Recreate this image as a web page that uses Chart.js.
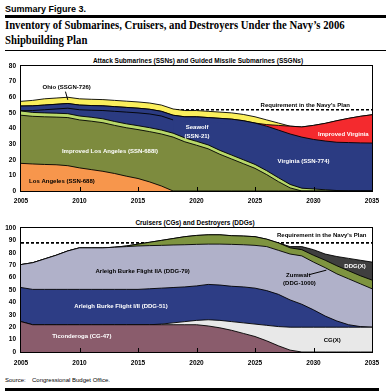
<!DOCTYPE html>
<html>
<head>
<meta charset="utf-8">
<script src="https://cdn.jsdelivr.net/npm/chart.js@4.4.0/dist/chart.umd.min.js"></script>
<style>
  html, body { margin: 0; padding: 0; background: #fff; }
  body { width: 389px; height: 392px; position: relative; overflow: hidden; font-family: "Liberation Sans", Arial, sans-serif; color: #000; }
  .abs { position: absolute; white-space: nowrap; }
  #fig { left: 5px; top: 4px; font-weight: bold; font-size: 9px; line-height: 10px; }
  .thick { position: absolute; left: 5px; height: 3px; background: #000; }
  .thin { position: absolute; left: 5px; height: 1px; background: #000; }
  #title { left: 5px; top: 18px; font-family: "Liberation Serif", serif; font-weight: bold; font-size: 13px; line-height: 14.5px; transform-origin: 0 0; }
  .sub { font-weight: bold; font-size: 6.5px; line-height: 7px; transform: translateX(-50%); }
  .src { font-size: 6px; line-height: 7px; top: 377px; }
  canvas { position: absolute; left: 0; }
</style>
</head>
<body>
<div id="fig" class="abs">Summary Figure 3.</div>
<div class="thick" style="top:15px;width:381px"></div>
<div id="title" class="abs"><span id="t1">Inventory of Submarines, Cruisers, and Destroyers Under the Navy’s 2006</span><br>Shipbuilding Plan</div>
<div class="thin" style="top:50px;width:381px"></div>

<div class="abs sub" style="left:198px;top:56.5px">Attack Submarines (SSNs) and Guided Missile Submarines (SSGNs)</div>
<canvas id="subs" width="389" height="152" style="top:56px"></canvas>

<div class="abs sub" style="left:195px;top:218.5px">Cruisers (CGs) and Destroyers (DDGs)</div>
<canvas id="surface" width="389" height="157" style="top:215px"></canvas>

<div class="abs src" style="left:5px">Source:</div>
<div class="abs src" style="left:32px">Congressional Budget Office.</div>
<div class="thick" style="top:388px;width:374px"></div>

<script>
// --- Data ---
const years = [2005, 2006, 2007, 2008, 2009, 2010, 2011, 2012, 2013, 2014, 2015,
               2016, 2017, 2018, 2019, 2020, 2021, 2022, 2023, 2024, 2025,
               2026, 2027, 2028, 2029, 2030, 2031, 2032, 2033, 2034, 2035];

// submarines, bottom to top
const losAngeles = [17.7, 17.3, 17, 16.8, 16.2, 14.8, 13.7, 12.6, 11.2, 9.5, 8, 5.8, 3.2, 0, 0, 0,
                    0, 0, 0, 0, 0, 0, 0, 0, 0, 0, 0, 0, 0, 0, 0];
const improvedLosAngeles = [30.8, 30.5, 30.5, 30.5, 30.8, 30.7, 31, 31.1, 30.8, 31, 31.3, 32.2, 33.3, 34.5, 31.5, 29.3,
                            27, 23.5, 20.5, 17.5, 14.5, 10.5, 6, 2, 0, 0, 0, 0, 0, 0, 0];
const otherAttack = [2.7, 2.5, 2.5, 2.5, 2.5, 2.5, 2.5, 2.5, 2.5, 2.5, 2.5, 2.5, 2.5, 2.5, 2.5, 2.5,
                     2.5, 2.5, 2.5, 2.5, 2.5, 2.5, 2.5, 2.2, 1.8, 1.3, 0.8, 0.3, 0, 0, 0];
const virginia = [0.2, 1.2, 2, 2.7, 3.5, 4, 4.5, 5.3, 6.5, 7.5, 8.2, 8.8, 9, 8.5, 10.5, 12.7,
                  14.5, 17.5, 20, 22, 23.5, 25.5, 27.5, 29.3, 29.7, 28.7, 28.2, 27.9, 28, 27.8, 27.7];
const seawolf = [3, 3, 3, 3, 3, 3, 3, 3, 3, 3, 3, 3, 3, 3, 3, 3,
                 3, 3, 3, 3, 3, 3, 3, 3, 3, 3, 3, 3, 3, 3, 3];
const improvedVirginia = [0, 0, 0, 0, 0, 0, 0, 0, 0, 0, 0, 0, 0, 0, 0, 0,
                          0, 0, 0, 0, 0, 1, 3, 5, 6.5, 9, 11.3, 13.8, 15.5, 17, 18.1];
const ohio = [3, 3.5, 4, 4, 4, 4, 4, 4, 4, 4, 4, 4, 4, 4, 4, 4,
              4, 4, 4, 4, 4, 3, 1.5, 0, 0, 0, 0, 0, 0, 0, 0];
const subRequirement = 52;
const subTicks = [0, 10, 20, 30, 40, 50, 60, 70, 80];

// cruisers and destroyers, bottom to top
const ticonderoga = [24.5, 22, 22, 22, 22, 22, 22, 22, 22, 22, 22, 22, 22, 22, 22, 22,
                     21, 19.5, 17.5, 15, 12.5, 9, 5, 1.5, 0, 0, 0, 0, 0, 0, 0];
const cgx = [0, 0, 0, 0, 0, 0, 0, 0, 0, 0, 0, 0, 0.5, 1.5, 2.5, 3.5,
             5, 6, 7, 8.5, 10, 12.5, 15.5, 18.5, 20, 20, 20, 20, 20, 20, 20];
const ddg51 = [27.5, 28.5, 28.5, 28.5, 28.5, 28.5, 28.5, 28.5, 28.5, 28.5, 28.5, 29, 29, 28.5, 28, 27.8,
               28.5, 28.5, 28.5, 29, 29, 28, 26, 22, 18.5, 14, 9, 5, 2, 0.5, 0];
const ddg79 = [18.5, 21.5, 24.5, 27.5, 31, 33.5, 33.5, 33.5, 34, 34.5, 35, 34.8, 34.5, 34.3, 34, 33.5,
               32.5, 33, 33.8, 34, 34.5, 35.5, 35.5, 37, 39, 38.5, 39, 38, 37, 34.5, 31];
const zumwalt = [0, 0, 0, 0, 0, 0, 0, 0, 0, 0.5, 1.5, 2.7, 4, 5.2, 6.5, 7.2,
                 7.5, 7.5, 7, 7, 7, 6, 6, 5, 5, 5.5, 6, 6.5, 6.5, 6.5, 7];
const ddgx = [0, 0, 0, 0, 0, 0, 0, 0, 0, 0, 0, 0, 0, 0, 0, 0,
              0, 0, 0, 0, 0, 0, 0, 1, 2.5, 4.5, 5, 7.5, 10, 12.5, 14.5];
const surfaceRequirement = 88;
const surfaceTicks = [0, 10, 20, 30, 40, 50, 60, 70, 80, 90, 100];

// --- Title width (condensed serif in the original) ---
const t1 = document.getElementById('t1');
document.getElementById('title').style.transform = `scaleX(${340 / t1.offsetWidth})`;

// --- Frame, inward ticks and in-chart labels ---
const framePlugin = {
    id: 'frame',
    afterDatasetsDraw(chart, args, opts) {
        const { ctx, chartArea: a, scales: { x, y } } = chart;
        ctx.save();
        ctx.strokeStyle = '#000';
        ctx.lineWidth = 1;
        ctx.beginPath();
        x.ticks.slice(1, -1).forEach(t => {
            const px = Math.round(x.getPixelForValue(t.value)) + 0.5;
            ctx.moveTo(px, a.bottom);
            ctx.lineTo(px, a.bottom - 4);
        });
        ctx.stroke();
        ctx.strokeRect(a.left - 0.5, a.top - 0.5, a.right - a.left + 1, a.bottom - a.top + 1);

        (opts.leaders || []).forEach(l => {
            ctx.beginPath();
            ctx.moveTo(x.getPixelForValue(l[0]), y.getPixelForValue(l[1]));
            ctx.lineTo(x.getPixelForValue(l[2]), y.getPixelForValue(l[3]));
            ctx.stroke();
        });

        ctx.textAlign = 'center';
        ctx.textBaseline = 'middle';
        ctx.font = 'bold 6px "Liberation Sans", Arial, sans-serif';
        (opts.notes || []).forEach(n => {
            ctx.fillStyle = n.color;
            ctx.fillText(n.text, x.getPixelForValue(n.x), y.getPixelForValue(n.y));
        });
        ctx.restore();
    }
};

const tickFont = { family: '"Liberation Sans", Arial, sans-serif', weight: 'bold', size: 6.5 };

function buildChart(id, series, requirement, ticks, padTop, axisH, labelPad, notes, leaders) {
    const datasets = series.map(s => ({
        label: s.name,
        data: years.map((yr, i) => ({ x: yr, y: s.values[i] })),
        backgroundColor: s.color,
        borderColor: '#000',
        borderWidth: 0.9,
        segment: s.hideTopAfter ? { borderColor: c => c.p0DataIndex >= s.hideTopAfter ? s.color : '#000' } : undefined,
        fill: 'origin',
        pointRadius: 0,
        tension: 0,
        stack: 'ships',
        order: 0
    }));
    datasets.push({
        label: 'Requirement in the Navy\'s Plan',
        data: years.map(yr => ({ x: yr, y: requirement })),
        borderColor: '#000',
        borderWidth: 1.7,
        borderDash: [3, 2],
        fill: false,
        pointRadius: 0,
        stack: 'req',
        order: 1
    });

    return new Chart(document.getElementById(id), {
        type: 'line',
        data: { datasets },
        options: {
            responsive: false,
            animation: false,
            devicePixelRatio: 1,
            layout: { padding: { left: 0, right: 17, top: padTop, bottom: 0 } },
            scales: {
                x: {
                    type: 'linear',
                    min: years[0],
                    max: years[years.length - 1],
                    grid: { display: false, drawTicks: false },
                    border: { display: false },
                    ticks: { stepSize: 5, padding: labelPad, color: '#000', font: tickFont, maxRotation: 0, callback: v => String(v) },
                    afterFit: s => { s.height = axisH; }
                },
                y: {
                    stacked: true,
                    min: ticks[0],
                    max: ticks[ticks.length - 1],
                    grid: { display: false, drawTicks: false },
                    border: { display: false },
                    ticks: { stepSize: 10, padding: 5, color: '#000', font: tickFont },
                    afterFit: s => { s.width = 21; }
                }
            },
            plugins: {
                legend: { display: false },
                tooltip: { enabled: false },
                frame: { notes, leaders }
            }
        },
        plugins: [framePlugin]
    });
}

buildChart('subs', [
    { name: 'Los Angeles (SSN-688)', values: losAngeles, color: '#f7964c' },
    { name: 'Improved Los Angeles (SSN-688I)', values: improvedLosAngeles, color: '#7d8b3e' },
    { name: 'Other', values: otherAttack, color: '#b8d86a' },
    { name: 'Virginia (SSN-774)', values: virginia, color: '#2b3b82', hideTopAfter: 13 },
    { name: 'Seawolf (SSN-21)', values: seawolf, color: '#2b3b82' },
    { name: 'Improved Virginia', values: improvedVirginia, color: '#f42a2e' },
    { name: 'Ohio (SSGN-726)', values: ohio, color: '#fbef5c' }
], subRequirement, subTicks, 10, 17, 6, [
    { text: 'Ohio (SSGN-726)', x: 2008.9, y: 66.4, color: '#000' },
    { text: 'Improved Los Angeles (SSN-688I)', x: 2012.6, y: 25.2, color: '#fff' },
    { text: 'Los Angeles (SSN-688)', x: 2008.5, y: 6.4, color: '#000' },
    { text: 'Seawolf', x: 2020.05, y: 41, color: '#fff' },
    { text: '(SSN-21)', x: 2020.05, y: 35.2, color: '#fff' },
    { text: 'Virginia (SSN-774)', x: 2029.15, y: 18.8, color: '#fff' },
    { text: 'Improved Virginia', x: 2032.55, y: 36.5, color: '#fff' },
    { text: 'Requirement in the Navy\'s Plan', x: 2029.3, y: 55, color: '#000' }
], [[2008.8, 63.6, 2009.0, 58.3]]);

buildChart('surface', [
    { name: 'Ticonderoga (CG-47)', values: ticonderoga, color: '#8a5c6c' },
    { name: 'CG(X)', values: cgx, color: '#e8e8e8' },
    { name: 'Arleigh Burke Flight I/II (DDG-51)', values: ddg51, color: '#2d3d85' },
    { name: 'Arleigh Burke Flight IIA (DDG-79)', values: ddg79, color: '#b0b1c9' },
    { name: 'Zumwalt (DDG-1000)', values: zumwalt, color: '#7e9440' },
    { name: 'DDG(X)', values: ddgx, color: '#3f3f3f' }
], surfaceRequirement, surfaceTicks, 13, 20, 7, [
    { text: 'Arleigh Burke Flight IIA (DDG-79)', x: 2015.4, y: 64.8, color: '#000' },
    { text: 'Arleigh Burke Flight I/II (DDG-51)', x: 2013.55, y: 37.1, color: '#fff' },
    { text: 'Ticonderoga (CG-47)', x: 2010.2, y: 12.4, color: '#fff' },
    { text: 'Requirement in the Navy\'s Plan', x: 2030.7, y: 93.8, color: '#000' },
    { text: 'Zumwalt', x: 2028.7, y: 61.8, color: '#000' },
    { text: '(DDG-1000)', x: 2028.8, y: 55.1, color: '#000' },
    { text: 'DDG(X)', x: 2033.55, y: 68.8, color: '#fff' },
    { text: 'CG(X)', x: 2031.6, y: 9.7, color: '#000' }
], [[2029.6, 62.3, 2031.1, 66]]);
</script>
</body>
</html>
